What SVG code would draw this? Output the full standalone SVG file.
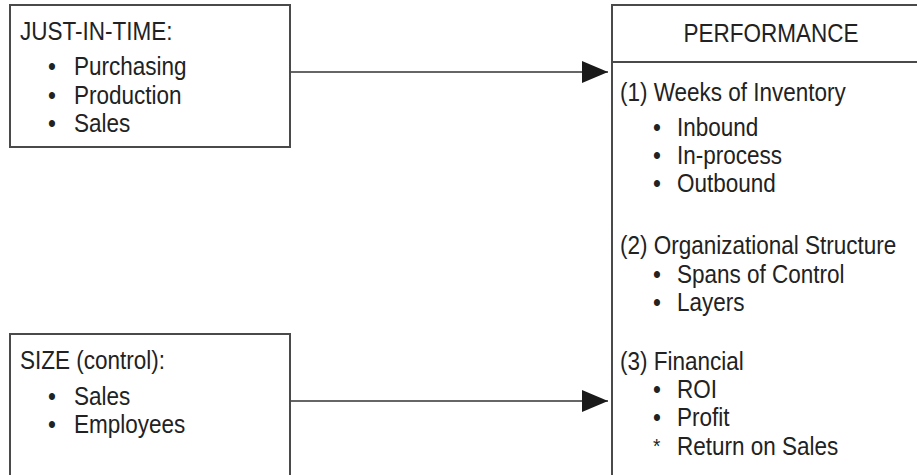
<svg xmlns="http://www.w3.org/2000/svg" width="917" height="475" viewBox="0 0 917 475">
  <style>
    .box { fill: #ffffff; stroke: #4a4a4a; stroke-width: 2; }
    .rule { stroke: #4a4a4a; stroke-width: 2; }
    .link { stroke: #333333; stroke-width: 1.6; fill: none; }
    text { font-family: "Liberation Sans", Arial, sans-serif; font-size: 25px; fill: #222222; }
    .star { font-size: 21px; }
  </style>
  <defs>
    <marker id="arrowhead" viewBox="0 0 26 22" refX="26" refY="11" markerWidth="26" markerHeight="22" markerUnits="userSpaceOnUse" orient="auto">
      <path d="M0,0 L26,11 L0,22 Z" fill="#1a1a1a"/>
    </marker>
  </defs>

  <rect width="917" height="475" fill="#ffffff"/>

  <!-- connectors -->
  <g id="connectors">
    <line class="link" x1="290" y1="72" x2="608" y2="72" marker-end="url(#arrowhead)"/>
    <line class="link" x1="290" y1="401" x2="608" y2="401" marker-end="url(#arrowhead)"/>
  </g>

  <!-- input: just-in-time -->
  <g id="jit">
    <rect class="box" x="10" y="5" width="280" height="142"/>
    <g transform="translate(20,0) scale(0.9,1)">
      <text x="0" y="40">JUST-IN-TIME:</text>
    </g>
    <g transform="translate(48,0) scale(0.9,1)">
      <text x="0" y="75">•</text><text x="28.9" y="75">Purchasing</text>
      <text x="0" y="104">•</text><text x="28.9" y="104">Production</text>
      <text x="0" y="132">•</text><text x="28.9" y="132">Sales</text>
    </g>
  </g>

  <!-- input: size control -->
  <g id="size">
    <rect class="box" x="10" y="334" width="280" height="160"/>
    <g transform="translate(20,0) scale(0.9,1)">
      <text x="0" y="369">SIZE (control):</text>
    </g>
    <g transform="translate(48,0) scale(0.9,1)">
      <text x="0" y="405">•</text><text x="28.9" y="405">Sales</text>
      <text x="0" y="433">•</text><text x="28.9" y="433">Employees</text>
    </g>
  </g>

  <!-- outcome: performance -->
  <g id="performance">
    <rect class="box" x="612" y="5" width="320" height="490"/>
    <line class="rule" x1="612" y1="62" x2="917" y2="62"/>
    <g transform="translate(771,0) scale(0.9,1)">
      <text x="0" y="42" text-anchor="middle">PERFORMANCE</text>
    </g>

    <g transform="translate(620,0) scale(0.9,1)">
      <text x="0" y="101">(1) Weeks of Inventory</text>
      <text x="0" y="254">(2) Organizational Structure</text>
      <text x="0" y="370">(3) Financial</text>
    </g>

    <g transform="translate(653,0) scale(0.9,1)">
      <text x="0" y="136">•</text><text x="26.7" y="136">Inbound</text>
      <text x="0" y="164">•</text><text x="26.7" y="164">In-process</text>
      <text x="0" y="192">•</text><text x="26.7" y="192">Outbound</text>

      <text x="0" y="283">•</text><text x="26.7" y="283">Spans of Control</text>
      <text x="0" y="311">•</text><text x="26.7" y="311">Layers</text>

      <text x="0" y="398">•</text><text x="26.7" y="398">ROI</text>
      <text x="0" y="426">•</text><text x="26.7" y="426">Profit</text>
      <text class="star" x="0" y="453">*</text><text x="26.7" y="455">Return on Sales</text>
    </g>
  </g>
</svg>
